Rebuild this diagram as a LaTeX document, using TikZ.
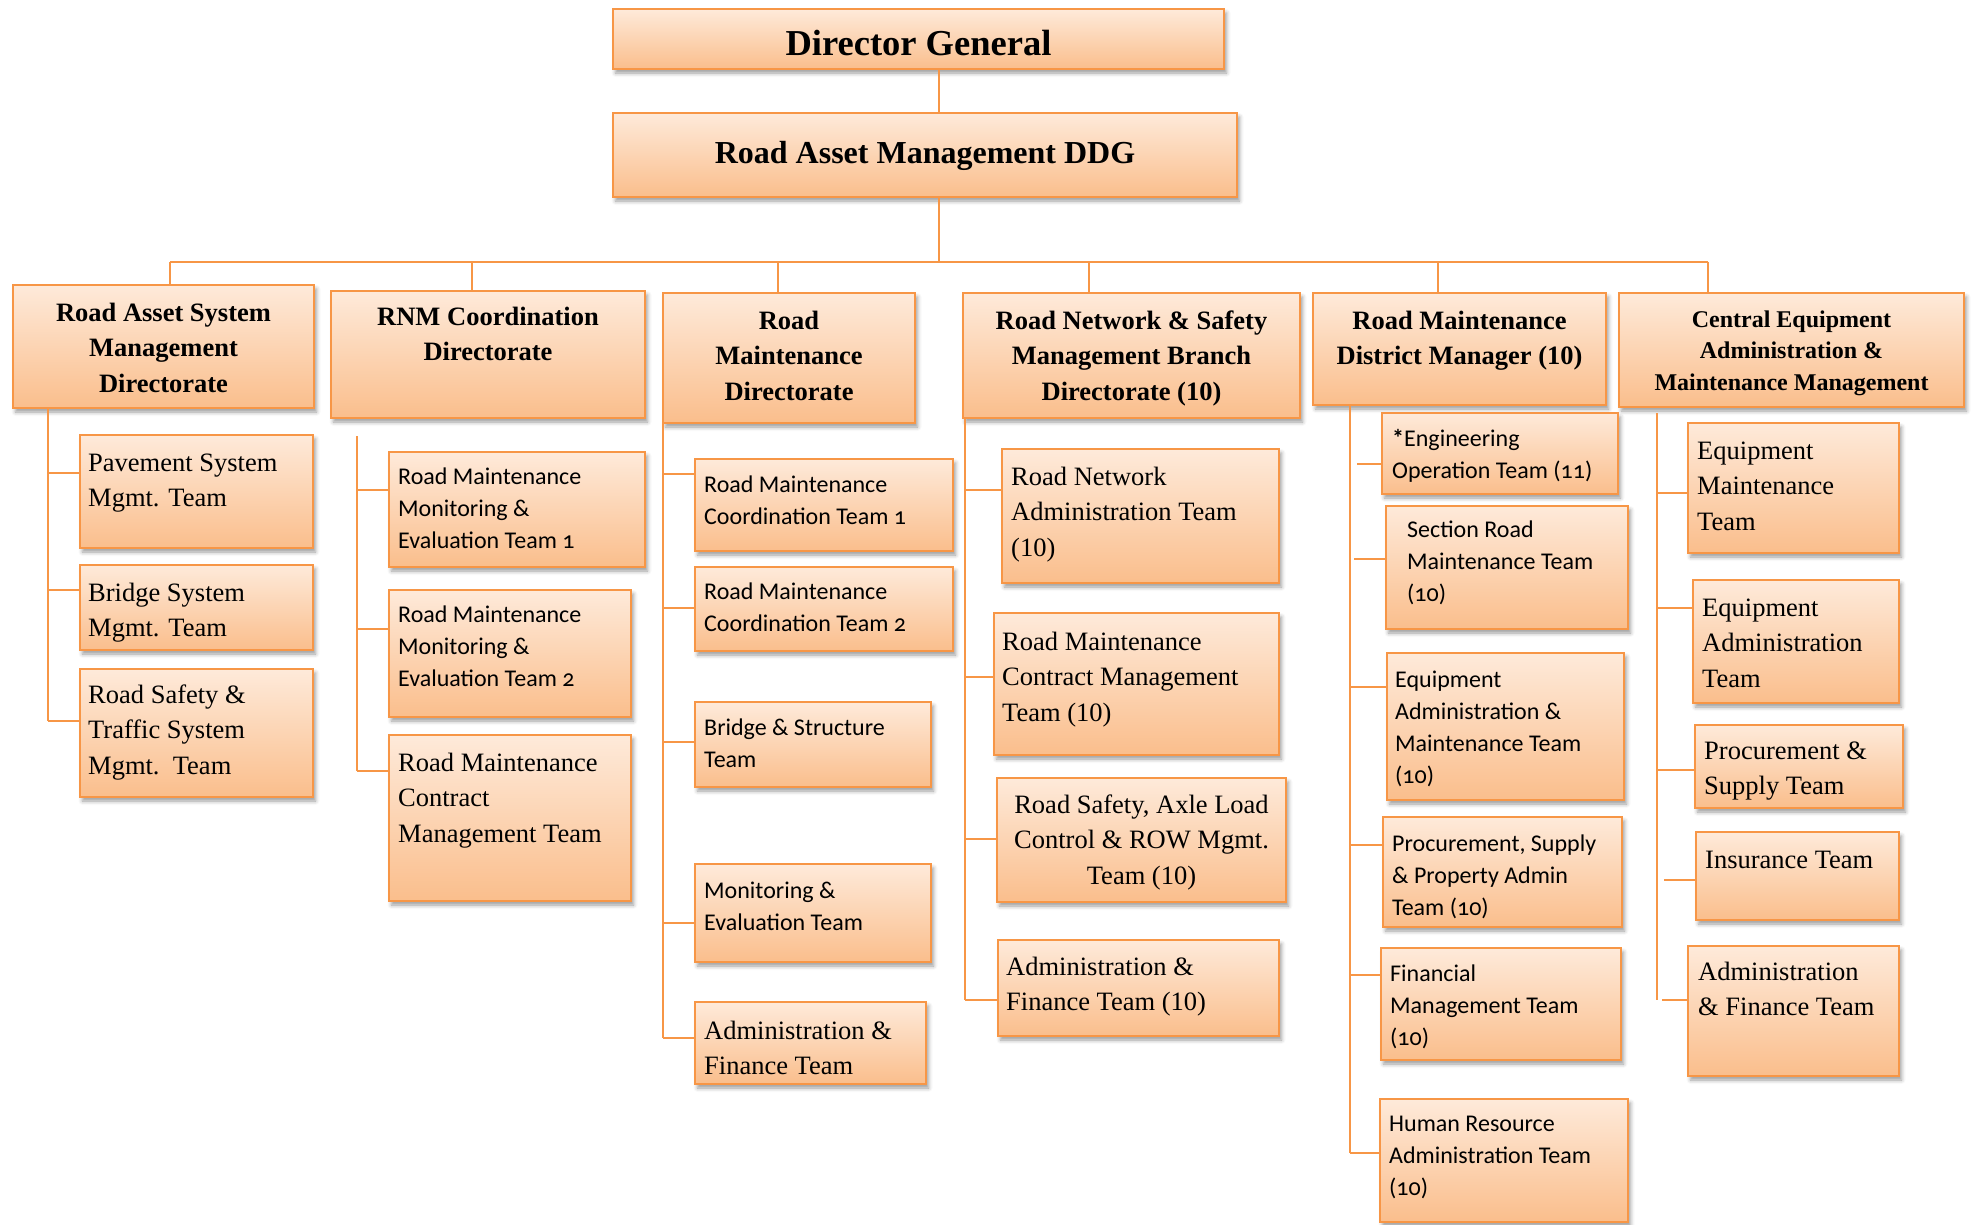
\documentclass[tikz,border=0pt]{standalone}
\usepackage{fontspec}
\setmainfont{Liberation Serif}
\newfontfamily\cand[Numbers=OldStyle]{Carlito}
\usetikzlibrary{shadows.blur}
\definecolor{boxline}{RGB}{247,150,70}
\definecolor{ctop}{RGB}{254,234,218}
\definecolor{cbot}{RGB}{250,190,140}
\newcommand\firstln{\rule{0pt}{22pt}}
\tikzset{
  box/.style={draw=boxline, line width=2.4pt, top color=ctop, bottom color=cbot,
    inner sep=0pt, outer sep=0pt, anchor=north west,
    blur shadow={shadow xshift=2.5pt, shadow yshift=-4pt, shadow blur radius=4pt, shadow opacity=40}},
  conn/.style={draw=boxline, line width=2pt},
  tm/.style={font=\fontsize{26.5}{35.5}\selectfont, align=left, inner sep=0pt, anchor=north west},
  tmc/.style={font=\fontsize{26.5}{35.5}\selectfont, align=center, inner sep=0pt, anchor=north},
  cd/.style={font=\cand\fontsize{24}{32}\selectfont, align=left, inner sep=0pt, anchor=north west},
  dr/.style={font=\bfseries\fontsize{26.5}{35.5}\selectfont, align=center, inner sep=0pt, anchor=north},
  drs/.style={font=\bfseries\fontsize{24}{31.5}\selectfont, align=center, inner sep=0pt, anchor=north},
}
\newcommand\tbox[5]{\node[box, minimum width=#4pt, minimum height=#5pt] (#1) at (#2,#3) {};}
\begin{document}
\begin{tikzpicture}[x=1pt,y=-1pt]
\useasboundingbox (0,0) rectangle (1971,1224);

% ---------- connectors (behind boxes) ----------
\coordinate (sx) at (939,0);
\coordinate (busL) at (170,262);
\coordinate (busR) at (1708,262);
\coordinate (bus2) at (472,262);
\coordinate (bus3) at (778,262);
\coordinate (bus4) at (1089,262);
\coordinate (bus5) at (1438,262);

% ---------- boxes ----------
\tbox{dg}{613}{9}{611}{60}
\tbox{ddg}{613}{113}{624}{84}
\tbox{d1}{13}{285}{301}{123}
\tbox{d2}{331}{291}{314}{127}
\tbox{d3}{663}{293}{252}{130}
\tbox{d4}{963}{293}{337}{125}
\tbox{d5}{1313}{293}{293}{112}
\tbox{d6}{1619}{293}{345}{114}

\tbox{c1a}{80}{435}{233}{113}
\tbox{c1b}{80}{565}{233}{85}
\tbox{c1c}{80}{669}{233}{128}

\tbox{c2a}{389}{452}{256}{115}
\tbox{c2b}{389}{590}{242}{127}
\tbox{c2c}{389}{735}{242}{166}

\tbox{c3a}{695}{459}{258}{92}
\tbox{c3b}{695}{567}{258}{84}
\tbox{c3c}{695}{702}{236}{85}
\tbox{c3d}{695}{864}{236}{98}
\tbox{c3e}{695}{1002}{231}{82}

\tbox{c4a}{1002}{449}{277}{134}
\tbox{c4b}{994}{613}{285}{142}
\tbox{c4c}{997}{778}{289}{124}
\tbox{c4d}{998}{940}{281}{96}

\tbox{c5a}{1382}{413}{236}{81}
\tbox{c5b}{1386}{506}{242}{123}
\tbox{c5c}{1387}{653}{237}{147}
\tbox{c5d}{1383}{817}{239}{110}
\tbox{c5e}{1381}{948}{240}{112}
\tbox{c5f}{1380}{1099}{248}{123}

\tbox{c6a}{1688}{423}{211}{130}
\tbox{c6b}{1693}{580}{206}{123}
\tbox{c6c}{1695}{725}{208}{83}
\tbox{c6d}{1696}{832}{203}{88}
\tbox{c6e}{1688}{946}{211}{130}

% ---------- top connectors ----------
\draw[conn] (dg.south -| sx) -- (ddg.north -| sx);
\draw[conn] (ddg.south -| sx) -- (sx |- busL);
\draw[conn] (busL) -- (busR);
\draw[conn] (busL) -- (d1.north -| busL);
\draw[conn] (bus2) -- (d2.north -| bus2);
\draw[conn] (bus3) -- (d3.north -| bus3);
\draw[conn] (bus4) -- (d4.north -| bus4);
\draw[conn] (bus5) -- (d5.north -| bus5);
\draw[conn] (busR) -- (d6.north -| busR);

% ---------- column 1 ----------
\coordinate (t1) at (48,721);
\draw[conn] (d1.south -| t1) -- (t1);
\coordinate (b1a) at (48,473);
\coordinate (b1b) at (48,590);
\draw[conn] (b1a) -- (b1a -| c1a.west);
\draw[conn] (b1b) -- (b1b -| c1b.west);
\draw[conn] (t1) -- (t1 -| c1c.west);

% ---------- column 2 ----------
\coordinate (t2top) at (357,436);
\coordinate (t2) at (357,771);
\draw[conn] (t2top) -- (t2);
\coordinate (b2a) at (357,490);
\coordinate (b2b) at (357,629);
\draw[conn] (b2a) -- (b2a -| c2a.west);
\draw[conn] (b2b) -- (b2b -| c2b.west);
\draw[conn] (t2) -- (t2 -| c2c.west);

% ---------- column 3 ----------
\coordinate (t3) at (663,1038);
\draw[conn] (d3.south -| t3) -- (t3);
\coordinate (b3a) at (663,474);
\coordinate (b3b) at (663,608);
\coordinate (b3c) at (663,742);
\coordinate (b3d) at (663,923);
\draw[conn] (b3a) -- (b3a -| c3a.west);
\draw[conn] (b3b) -- (b3b -| c3b.west);
\draw[conn] (b3c) -- (b3c -| c3c.west);
\draw[conn] (b3d) -- (b3d -| c3d.west);
\draw[conn] (t3) -- (t3 -| c3e.west);

% ---------- column 4 ----------
\coordinate (t4) at (965,1000);
\draw[conn] (d4.south -| t4) -- (t4);
\coordinate (b4a) at (965,490);
\coordinate (b4b) at (965,677);
\coordinate (b4c) at (965,839);
\draw[conn] (b4a) -- (b4a -| c4a.west);
\draw[conn] (b4b) -- (b4b -| c4b.west);
\draw[conn] (b4c) -- (b4c -| c4c.west);
\draw[conn] (t4) -- (t4 -| c4d.west);

% ---------- column 5 ----------
\coordinate (t5) at (1350,1153);
\draw[conn] (d5.south -| t5) -- (t5);
\coordinate (b5a) at (1357,464);
\coordinate (b5b) at (1354,559);
\coordinate (b5c) at (1350,687);
\coordinate (b5d) at (1350,845);
\coordinate (b5e) at (1350,975);
\draw[conn] (b5a) -- (b5a -| c5a.west);
\draw[conn] (b5b) -- (b5b -| c5b.west);
\draw[conn] (b5c) -- (b5c -| c5c.west);
\draw[conn] (b5d) -- (b5d -| c5d.west);
\draw[conn] (b5e) -- (b5e -| c5e.west);
\draw[conn] (t5) -- (t5 -| c5f.west);

% ---------- column 6 ----------
\coordinate (t6top) at (1657,413);
\coordinate (t6) at (1657,1000);
\draw[conn] (t6top) -- (t6);
\coordinate (b6a) at (1657,493);
\coordinate (b6b) at (1657,608);
\coordinate (b6c) at (1657,770);
\coordinate (b6d) at (1664,880);
\coordinate (b6e) at (1662,1000);
\draw[conn] (b6a) -- (b6a -| c6a.west);
\draw[conn] (b6b) -- (b6b -| c6b.west);
\draw[conn] (b6c) -- (b6c -| c6c.west);
\draw[conn] (b6d) -- (b6d -| c6d.west);
\draw[conn] (b6e) -- (b6e -| c6e.west);

% ---------- texts ----------
\node[font=\bfseries\fontsize{36.5}{40}\selectfont, inner sep=0pt, anchor=base] (dg-t) at (918.5,55) {Director General};
\node[font=\bfseries\fontsize{32}{36}\selectfont, inner sep=0pt, anchor=base] (ddg-t) at (925,163) {Road Asset Management DDG};

\node[dr] (d1-t) at (163.5,299) {\firstln Road Asset System\\Management\\Directorate};
\node[dr] (d2-t) at (488,303) {\firstln RNM Coordination\\Directorate};
\node[dr] (d3-t) at (789,307) {\firstln Road\\Maintenance\\Directorate};
\node[dr] (d4-t) at (1131.5,307) {\firstln Road Network \& Safety\\Management Branch\\Directorate (10)};
\node[dr] (d5-t) at (1459.5,307) {\firstln Road Maintenance\\District Manager (10)};
\node[drs] (d6-t) at (1791.5,305) {\firstln Central Equipment\\Administration \&\\Maintenance Management};

\node[tm] (c1a-t) at (88,449) {\firstln Pavement System\\Mgmt. Team};
\node[tm] (c1b-t) at (88,579) {\firstln Bridge System\\Mgmt. Team};
\node[tm] (c1c-t) at (88,681) {\firstln Road Safety \&\\Traffic System\\Mgmt.\ \ Team};

\node[cd] (c2a-t) at (398,462) {\firstln Road Maintenance\\Monitoring \&\\Evaluation Team 1};
\node[cd] (c2b-t) at (398,600) {\firstln Road Maintenance\\Monitoring \&\\Evaluation Team 2};
\node[tm] (c2c-t) at (398,749) {\firstln Road Maintenance\\Contract\\Management Team};

\node[cd] (c3a-t) at (704,470) {\firstln Road Maintenance\\Coordination Team 1};
\node[cd] (c3b-t) at (704,577) {\firstln Road Maintenance\\Coordination Team 2};
\node[cd] (c3c-t) at (704,713) {\firstln Bridge \& Structure\\Team};
\node[cd] (c3d-t) at (704,876) {\firstln Monitoring \&\\Evaluation Team};
\node[tm] (c3e-t) at (704,1017) {\firstln Administration \&\\Finance Team};

\node[tm] (c4a-t) at (1011,463) {\firstln Road Network\\Administration Team\\(10)};
\node[tm] (c4b-t) at (1002,628) {\firstln Road Maintenance\\Contract Management\\Team (10)};
\node[tmc] (c4c-t) at (1141.5,791) {\firstln Road Safety, Axle Load\\Control \& ROW Mgmt.\\Team (10)};
\node[tm] (c4d-t) at (1006,953) {\firstln Administration \&\\Finance Team (10)};

\node[cd] (c5a-t) at (1392,424) {\firstln\textbf{*}Engineering\\Operation Team (11)};
\node[cd] (c5b-t) at (1407,515) {\firstln Section Road\\Maintenance Team\\(10)};
\node[cd] (c5c-t) at (1395,665) {\firstln Equipment\\Administration \&\\Maintenance Team\\(10)};
\node[cd] (c5d-t) at (1392,829) {\firstln Procurement, Supply\\\& Property Admin\\Team (10)};
\node[cd] (c5e-t) at (1390,959) {\firstln Financial\\Management Team\\(10)};
\node[cd] (c5f-t) at (1389,1109) {\firstln Human Resource\\Administration Team\\(10)};

\node[tm] (c6a-t) at (1697,437) {\firstln Equipment\\Maintenance\\Team};
\node[tm] (c6b-t) at (1702,594) {\firstln Equipment\\Administration\\Team};
\node[tm] (c6c-t) at (1704,737) {\firstln Procurement \&\\Supply Team};
\node[font=\fontsize{26.5}{35.5}\selectfont, inner sep=0pt, anchor=base west] (c6d-t) at (1705,868) {Insurance Team};
\node[tm] (c6e-t) at (1698,958) {\firstln Administration\\\& Finance Team};
\end{tikzpicture}
\end{document}
